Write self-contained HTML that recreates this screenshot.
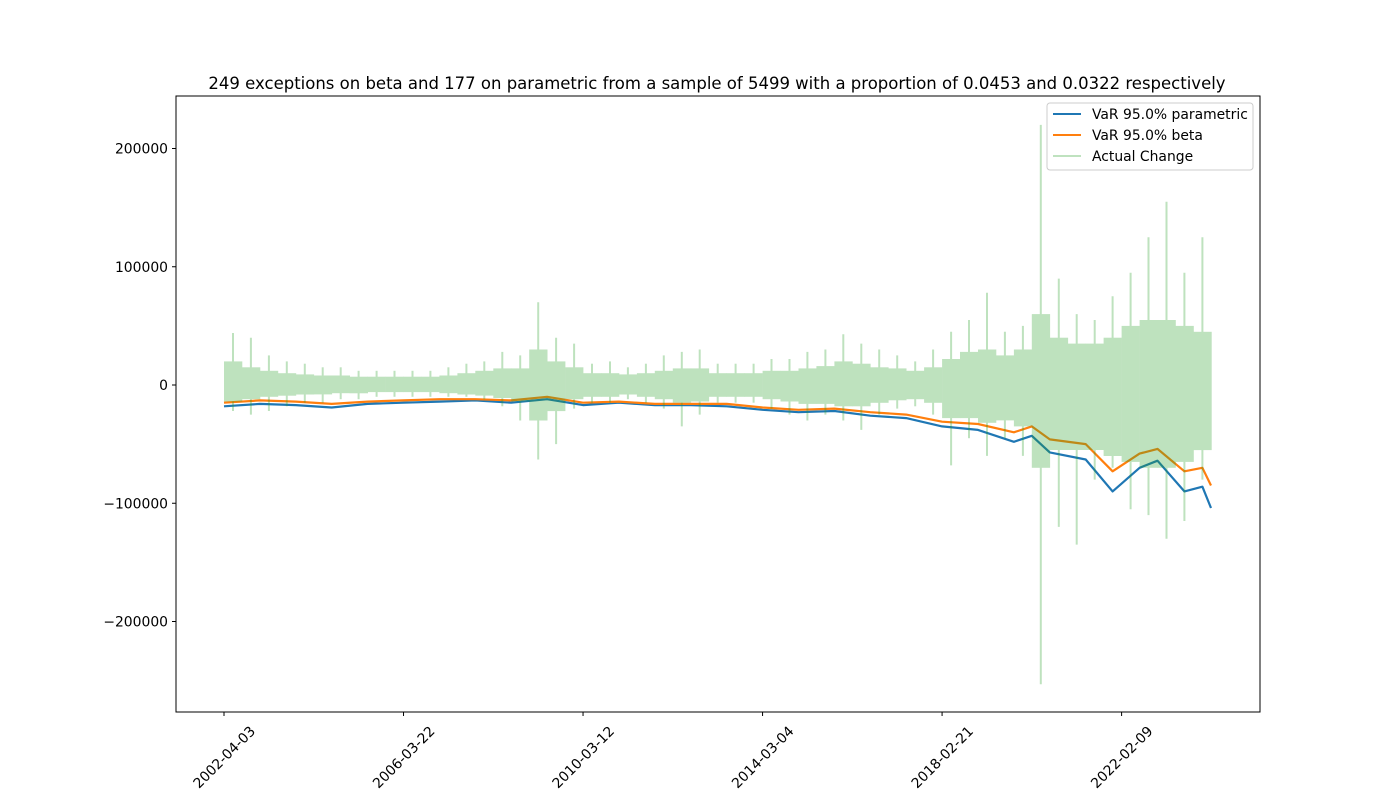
<!DOCTYPE html>
<html><head><meta charset="utf-8"><style>
body{margin:0;background:#fff;}
svg text{font-family:"DejaVu Sans","Liberation Sans",sans-serif;fill:#000;}
</style></head><body>
<svg id="chart" width="1400" height="800" xmlns="http://www.w3.org/2000/svg">
<rect width="1400" height="800" fill="#fff"/>
<text x="717" y="89" text-anchor="middle" font-size="16.5">249 exceptions on beta and 177 on parametric from a sample of 5499 with a proportion of 0.0453 and 0.0322 respectively</text>
<g id="plot"></g>
<rect x="176" y="96" width="1084" height="616" fill="none" stroke="#000" stroke-width="1"/>
<g id="axes"></g>
<g>
<rect x="1047" y="103" width="206" height="67" rx="3" fill="#fff" fill-opacity="0.8" stroke="#ccc"/>
<g><line x1="1053" y1="114" x2="1081" y2="114" stroke="#1f77b4" stroke-width="2"/><text x="1092" y="119" font-size="13.9">VaR 95.0% parametric</text></g>
<g><line x1="1053" y1="135" x2="1081" y2="135" stroke="#ff7f0e" stroke-width="2"/><text x="1092" y="140" font-size="13.9">VaR 95.0% beta</text></g>
<g><line x1="1053" y1="156" x2="1081" y2="156" stroke="#2ca02c" stroke-opacity="0.3" stroke-width="2"/><text x="1092" y="161" font-size="13.9">Actual Change</text></g>
</g>
</svg>
<script>
// VaR knots (sample index, values in thousands)
const varIdx = [0,200,400,600,800,1000,1200,1400,1600,1800,2000,2200,2400,2600,2800,3000,3200,3400,3600,3800,4000,4200,4400,4500,4600,4800,4950,5100,5200,5350,5450,5498];
const paramVals = [-18,-16,-17,-19,-16,-15,-14,-13,-15,-12,-17,-15,-17,-17,-18,-21,-23,-22,-26,-28,-35,-38,-48,-43,-57,-63,-90,-70,-64,-90,-86,-104];
const betaVals = [-15,-13,-14,-16,-14,-13,-12,-12,-13,-10,-15,-14,-16,-16,-16,-19,-21,-20,-23,-25,-31,-33,-40,-35,-46,-50,-73,-58,-54,-73,-70,-85];
// Actual change envelopes per 100-sample bucket (thousands)
const spikeHi = [44,40,25,20,18,15,15,12,12,12,12,12,15,18,20,28,25,70,40,35,18,20,15,18,25,28,30,18,18,18,22,22,28,30,43,35,30,25,20,30,45,55,78,45,50,220,90,60,55,75,95,125,155,95,125];
const spikeLo = [-22,-25,-22,-18,-15,-15,-12,-12,-10,-10,-10,-10,-10,-10,-12,-18,-30,-63,-50,-20,-15,-15,-12,-15,-20,-35,-25,-15,-15,-15,-20,-25,-30,-25,-30,-38,-25,-20,-18,-25,-68,-45,-60,-45,-60,-253,-120,-135,-80,-70,-105,-110,-130,-115,-80];
const coreHi = [20,15,12,10,9,8,8,7,7,7,7,7,8,10,12,14,14,30,20,15,10,10,9,10,12,14,14,10,10,10,12,12,14,16,20,18,15,14,12,15,22,28,30,25,30,60,40,35,35,40,50,55,55,50,45];
const coreLo = [-14,-12,-10,-9,-8,-8,-7,-7,-6,-6,-6,-6,-7,-8,-9,-11,-14,-30,-22,-12,-10,-10,-8,-10,-12,-15,-14,-10,-10,-10,-12,-14,-16,-16,-18,-18,-15,-13,-12,-15,-28,-28,-32,-30,-35,-70,-55,-55,-55,-60,-65,-70,-70,-65,-55];
const yTicks = [200000,100000,0,-100000,-200000];
const yTickLabels = ["200000","100000","0","\u2212100000","\u2212200000"];
const xTickIdx = [0,1000,2000,3000,4000,5000];
const xTickLabels = ["2002-04-03","2006-03-22","2010-03-12","2014-03-04","2018-02-21","2022-02-09"];

const NS="http://www.w3.org/2000/svg";
const xS = i => 224 + i*(987/5498);
const yS = v => 385 - v*0.0011825;
const plot=document.getElementById('plot'), axes=document.getElementById('axes');
function mk(t,a,p){const e=document.createElementNS(NS,t);for(const k in a)e.setAttribute(k,a[k]);p.appendChild(e);return e;}

function line(idx,vals,color,name){
  const pts=idx.map((i,k)=>xS(i).toFixed(1)+','+yS(vals[k]*1000).toFixed(1)).join(' ');
  const p=mk('polyline',{points:pts,fill:'none',stroke:color,'stroke-width':2.2,'stroke-linejoin':'round'},plot);
  
  
}
line(varIdx,paramVals,'#1f77b4','parametric-var-line');
line(varIdx,betaVals,'#ff7f0e','beta-var-line');

const g=mk('g',{opacity:0.3},plot);


const bw=100*(987/5498);
spikeHi.forEach((h,k)=>{
  const x0=xS(k*100);
  const r=mk('rect',{x:x0.toFixed(1),y:yS(coreHi[k]*1000).toFixed(1),width:(bw+0.3).toFixed(1),height:(yS(coreLo[k]*1000)-yS(coreHi[k]*1000)).toFixed(1),fill:'#2ca02c'},g);
  
  
  const l=mk('line',{x1:(x0+bw/2).toFixed(1),x2:(x0+bw/2).toFixed(1),y1:yS(h*1000).toFixed(1),y2:yS(spikeLo[k]*1000).toFixed(1),stroke:'#2ca02c','stroke-width':2},g);
  
  
});

yTicks.forEach((v,k)=>{
  const y=yS(v);
  const t=mk('line',{x1:172,x2:176,y1:y,y2:y,stroke:'#000'},axes);
  
  
  const tx=mk('text',{x:168,y:y+5,'text-anchor':'end','font-size':13.9},axes);
  tx.textContent=yTickLabels[k];
  
  
});
xTickIdx.forEach((i,k)=>{
  const x=xS(i);
  const t=mk('line',{x1:x,x2:x,y1:712,y2:716,stroke:'#000'},axes);
  
  
  const cx=x, cy=757;
  const tx=mk('text',{x:cx,y:cy+5,'text-anchor':'middle','font-size':13.9,transform:`rotate(-45 ${cx} ${cy})`},axes);
  tx.textContent=xTickLabels[k];
  
  
});
</script>
</body></html>
